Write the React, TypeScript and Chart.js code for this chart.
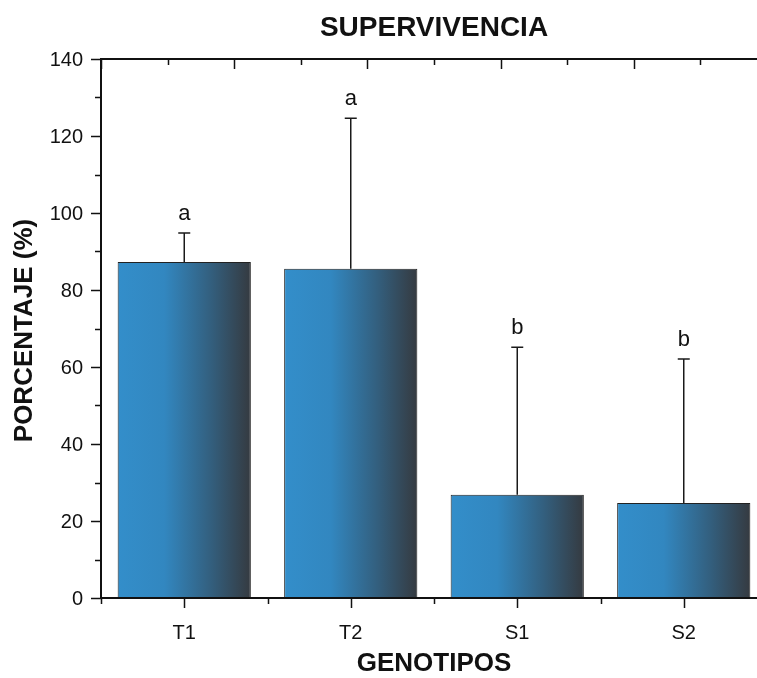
import React, { useEffect, useRef } from "react";
import { Chart, registerables } from "chart.js";

Chart.register(...registerables);

const categories = ["T1", "T2", "S1", "S2"];
const meanValues = [87.3, 85.5, 26.8, 24.7];
const errorTops = [94.8, 124.6, 65.1, 62.1];
const letters = ["a", "a", "b", "b"];
const yTickValues = [0, 20, 40, 60, 80, 100, 120, 140];
const yMinorTickValues = [10, 30, 50, 70, 90, 110, 130];
const topAxisMajor = [0, 1, 2, 3, 4, 5];
const topAxisMinor = [0.5, 1.5, 2.5, 3.5, 4.5];

const CW = 790;
const CH = 678;
const FONT = "'Liberation Sans', Arial, Helvetica, sans-serif";

export default function App() {
  const ref = useRef<HTMLCanvasElement | null>(null);

  useEffect(() => {
    const canvas = ref.current;
    if (!canvas) return;

    const gradientFor = (chart: any, index: number) => {
      const xs = chart.scales.x;
      const area = chart.chartArea;
      if (!xs || !area) return "#3388BE";
      const cx = xs.getPixelForValue(index);
      const w = (xs.width / categories.length) * 0.8;
      const g = chart.ctx.createLinearGradient(cx - w / 2, 0, cx + w / 2, 0);
      g.addColorStop(0, "#338ECA");
      g.addColorStop(0.35, "#3287C0");
      g.addColorStop(0.7, "#335F7E");
      g.addColorStop(1, "#353A40");
      return g;
    };

    const decor = {
      id: "decor",
      afterDatasetsDraw(chart: any) {
        const ctx = chart.ctx;
        const ys = chart.scales.y;
        const xs = chart.scales.x;
        ctx.save();
        ctx.strokeStyle = "#1a1a1a";
        ctx.lineWidth = 1.5;
        categories.forEach((_, i) => {
          const cx = xs.getPixelForValue(i);
          const yb = ys.getPixelForValue(meanValues[i]);
          const yt = ys.getPixelForValue(errorTops[i]);
          ctx.beginPath();
          ctx.moveTo(cx, yb);
          ctx.lineTo(cx, yt);
          ctx.moveTo(cx - 6, yt);
          ctx.lineTo(cx + 6, yt);
          ctx.stroke();
          ctx.fillStyle = "#111";
          ctx.font = `22px ${FONT}`;
          ctx.textAlign = "center";
          ctx.textBaseline = "alphabetic";
          ctx.fillText(letters[i], cx, yt - 13);
        });
        ctx.restore();
      },
      afterDraw(chart: any) {
        const ctx = chart.ctx;
        const a = chart.chartArea;
        const ys = chart.scales.y;
        const xs = chart.scales.x;
        const topPx = (v: number) => a.left + (v / 5) * (a.right - a.left);
        ctx.save();
        ctx.strokeStyle = "#111";
        ctx.lineWidth = 2;
        ctx.beginPath();
        ctx.moveTo(a.left, a.top);
        ctx.lineTo(a.right, a.top);
        ctx.lineTo(a.right, a.bottom);
        ctx.lineTo(a.left, a.bottom);
        ctx.closePath();
        ctx.stroke();

        ctx.lineWidth = 1.5;
        ctx.beginPath();
        yTickValues.forEach((v) => {
          const y = Math.round(ys.getPixelForValue(v)) + 0.5;
          ctx.moveTo(a.left - 10, y);
          ctx.lineTo(a.left, y);
        });
        yMinorTickValues.forEach((v) => {
          const y = Math.round(ys.getPixelForValue(v)) + 0.5;
          ctx.moveTo(a.left - 6, y);
          ctx.lineTo(a.left, y);
        });
        categories.forEach((_, i) => {
          const x = Math.round(xs.getPixelForValue(i)) + 0.5;
          ctx.moveTo(x, a.bottom);
          ctx.lineTo(x, a.bottom + 10);
        });
        for (let i = 0; i <= categories.length; i++) {
          const x = Math.round(xs.getPixelForValue(i - 0.5)) + 0.5;
          ctx.moveTo(x, a.bottom);
          ctx.lineTo(x, a.bottom + 6);
        }
        topAxisMajor.forEach((v) => {
          const x = Math.round(topPx(v)) + 0.5;
          ctx.moveTo(x, a.top);
          ctx.lineTo(x, a.top + 10);
        });
        topAxisMinor.forEach((v) => {
          const x = Math.round(topPx(v)) + 0.5;
          ctx.moveTo(x, a.top);
          ctx.lineTo(x, a.top + 6);
        });
        ctx.stroke();

        ctx.fillStyle = "#111";
        ctx.font = `20px ${FONT}`;
        ctx.textAlign = "right";
        ctx.textBaseline = "middle";
        yTickValues.forEach((v) => {
          ctx.fillText(String(v), a.left - 18, ys.getPixelForValue(v) + 1);
        });
        ctx.textAlign = "center";
        categories.forEach((c, i) => {
          ctx.fillText(c, xs.getPixelForValue(i), 633);
        });

        ctx.font = `bold 28px ${FONT}`;
        ctx.fillText("SUPERVIVENCIA", (a.left + a.right) / 2, 28);
        ctx.font = `bold 26px ${FONT}`;
        ctx.fillText("GENOTIPOS", (a.left + a.right) / 2, 664);
        ctx.translate(25, (a.top + a.bottom) / 2 + 2);
        ctx.rotate(-Math.PI / 2);
        ctx.fillText("PORCENTAJE (%)", 0, 0);
        ctx.restore();
      },
    };

    const chart = new Chart(canvas, {
      type: "bar",
      data: {
        labels: categories,
        datasets: [
          {
            data: meanValues,
            backgroundColor: (c: any) => gradientFor(c.chart, c.dataIndex),
            borderColor: "#222",
            borderWidth: 1,
            categoryPercentage: 0.8,
            barPercentage: 1,
          },
        ],
      },
      options: {
        responsive: false,
        animation: false,
        devicePixelRatio: 1,
        layout: { padding: { left: 101, top: 59, right: CW - 767, bottom: CH - 598 } },
        plugins: { legend: { display: false }, tooltip: { enabled: false }, title: { display: false } },
        scales: {
          x: { type: "category", display: false, offset: true },
          y: { type: "linear", display: false, min: 0, max: 140 },
        },
      },
      plugins: [decor],
    });
    return () => chart.destroy();
  }, []);

  return (
    <div
      style={{
        position: "fixed",
        left: 0,
        top: 0,
        width: 757,
        height: 678,
        overflow: "hidden",
        background: "#fff",
      }}
    >
      <canvas ref={ref} width={CW} height={CH} style={{ width: CW, height: CH, display: "block" }} />
    </div>
  );
}
